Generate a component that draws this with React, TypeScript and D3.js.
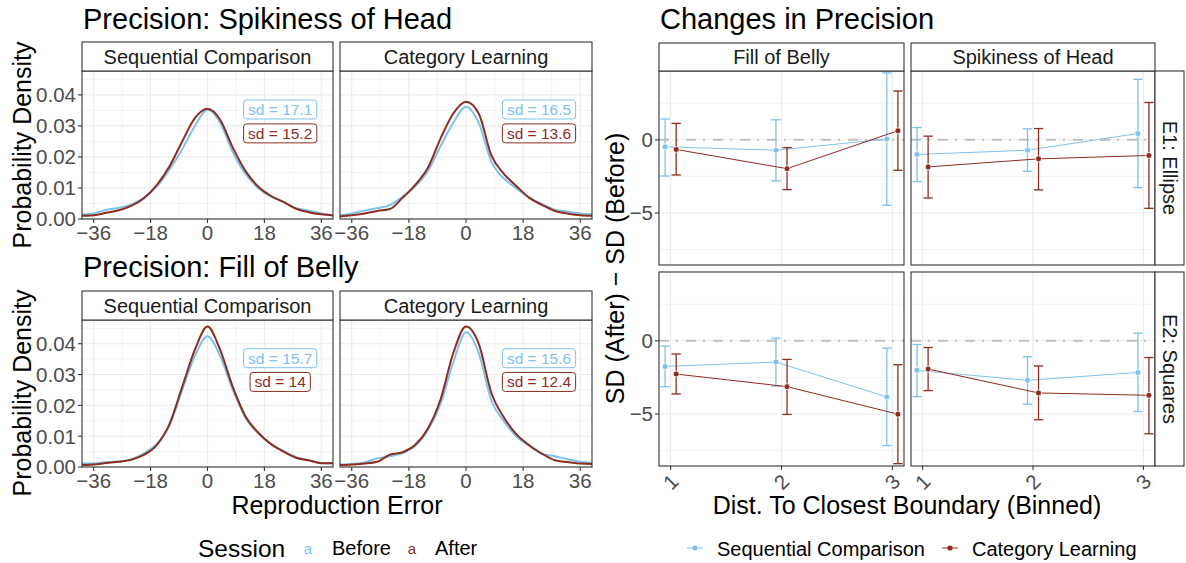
import React from 'react';
import * as d3 from 'd3';

const FONT = '"Liberation Sans", Arial, Helvetica, sans-serif';
const BLUE = '#7DC1EE';
const RED = '#8E2C1E';
const GRID = '#EBEBEB';
const BORDER = '#333333';
const TICK_TEXT = '#4D4D4D';

// Reproduction error grid on which the densities are evaluated
const errorGrid = [-40, -36, -32, -28, -24, -20, -16, -12, -8, -4, 0, 4, 8, 12, 16, 20, 24, 28, 32, 36, 40];

const spikeSeqBefore = [0.0015, 0.0018, 0.003, 0.0036, 0.0047, 0.007, 0.0105, 0.016, 0.0225, 0.030, 0.0352, 0.031, 0.0215, 0.0145, 0.010, 0.0072, 0.0055, 0.0035, 0.0027, 0.0018, 0.0012];
const spikeSeqAfter = [0.0010, 0.0012, 0.002, 0.0028, 0.0043, 0.0068, 0.011, 0.017, 0.025, 0.0325, 0.0355, 0.032, 0.023, 0.0155, 0.0105, 0.0075, 0.0055, 0.0033, 0.0022, 0.0015, 0.0011];
const spikeCatBefore = [0.0012, 0.0018, 0.0027, 0.0035, 0.0045, 0.0072, 0.0105, 0.0155, 0.0235, 0.031, 0.0362, 0.031, 0.0185, 0.013, 0.0098, 0.0068, 0.0048, 0.003, 0.0024, 0.0018, 0.0015];
const spikeCatAfter = [0.0008, 0.0012, 0.0018, 0.0026, 0.0032, 0.0068, 0.011, 0.0165, 0.026, 0.034, 0.0378, 0.034, 0.0205, 0.0145, 0.0105, 0.0068, 0.0045, 0.0026, 0.0018, 0.0012, 0.001];
const bellySeqBefore = [0.0012, 0.0011, 0.0016, 0.0018, 0.0025, 0.0045, 0.0075, 0.0135, 0.025, 0.036, 0.0424, 0.036, 0.025, 0.016, 0.011, 0.0075, 0.0052, 0.0032, 0.0022, 0.0013, 0.0012];
const bellySeqAfter = [0.0006, 0.0008, 0.0013, 0.0017, 0.0024, 0.004, 0.0072, 0.014, 0.026, 0.038, 0.0456, 0.038, 0.026, 0.0165, 0.0112, 0.0075, 0.005, 0.003, 0.0022, 0.0012, 0.0012];
const bellyCatBefore = [0.0008, 0.001, 0.0015, 0.0028, 0.0035, 0.0045, 0.0068, 0.012, 0.0205, 0.034, 0.0437, 0.037, 0.0215, 0.0148, 0.0098, 0.0068, 0.0042, 0.0035, 0.0025, 0.0017, 0.0013];
const bellyCatAfter = [0.0006, 0.0008, 0.0011, 0.0017, 0.004, 0.0048, 0.0072, 0.0125, 0.022, 0.037, 0.0456, 0.040, 0.024, 0.016, 0.0105, 0.007, 0.0043, 0.0022, 0.0016, 0.0011, 0.001];

// Standard deviations [Before, After]
const spikeSeqSd = [17.1, 15.2];
const spikeCatSd = [16.5, 13.6];
const bellySeqSd = [15.7, 14];
const bellyCatSd = [15.6, 12.4];

const errorTicks = [-36, -18, 0, 18, 36];
const errorMinor = [-27, -9, 9, 27];
const densityTicks = [0, 0.01, 0.02, 0.03, 0.04];
const densityMinor = [0.005, 0.015, 0.025, 0.035, 0.045];

const conditions = ['Sequential Comparison', 'Category Learning'];
const sessions = ['Before', 'After'];
const features = ['Fill of Belly', 'Spikiness of Head'];
const experiments = ['E1: Ellipse', 'E2: Squares'];

// Change in SD per distance bin: [mean, lower, upper]
const bins = [1, 2, 3];
const e1BellySeq = [[-0.48, -2.47, 1.42], [-0.71, -2.8, 1.37], [0.05, -4.47, 4.57]];
const e1BellyCat = [[-0.66, -2.4, 1.12], [-1.97, -3.4, -0.53], [0.62, -2.08, 3.33]];
const e1SpikeSeq = [[-1.0, -2.85, 0.84], [-0.71, -2.15, 0.75], [0.43, -3.27, 4.13]];
const e1SpikeCat = [[-1.85, -3.97, 0.25], [-1.3, -3.42, 0.77], [-1.07, -4.68, 2.55]];
const e2BellySeq = [[-1.75, -3.13, -0.36], [-1.45, -3.1, 0.18], [-3.83, -7.16, -0.5]];
const e2BellyCat = [[-2.27, -3.63, -0.9], [-3.13, -5.03, -1.27], [-5.01, -8.39, -1.63]];
const e2SpikeSeq = [[-2.02, -3.81, -0.25], [-2.7, -4.33, -1.09], [-2.16, -4.83, 0.52]];
const e2SpikeCat = [[-1.93, -3.4, -0.46], [-3.56, -5.39, -1.72], [-3.72, -6.35, -1.14]];

const changeTicks = [0, -5];
const changeMinor = [2.5, -2.5, -7.5];

const minus = (v: number, s: string) => (v < 0 ? '\u2212' + s.replace('-', '') : s);

let ctx: CanvasRenderingContext2D | null = null;
function textWidth(text: string, size: number) {
  if (!ctx) ctx = document.createElement('canvas').getContext('2d');
  if (!ctx) return text.length * size * 0.5;
  ctx.font = `${size}px ${FONT}`;
  return ctx.measureText(text).width;
}

type DensityProps = {
  x0: number; x1: number; stripTop: number; top: number; bottom: number;
  title: string; before: number[]; after: number[]; sds: number[]; yAxis: boolean; xTickY: number;
};

function DensityPanel({ x0, x1, stripTop, top, bottom, title, before, after, sds, yAxis, xTickY }: DensityProps) {
  const x = d3.scaleLinear().domain([-39.7, 39.7]).range([x0, x1]);
  const y = d3.scaleLinear().domain([0, 0.0477]).range([bottom, top]);
  const line = d3.line<number>().x((_, i) => x(errorGrid[i])).y((d) => y(d)).curve(d3.curveMonotoneX);
  const labels = [
    { text: `sd = ${sds[0]}`, color: BLUE, yv: 0.0353 },
    { text: `sd = ${sds[1]}`, color: RED, yv: 0.0276 },
  ];
  const clipId = `clip-${Math.round(x0)}-${Math.round(top)}`;
  return (
    <g>
      <clipPath id={clipId}><rect x={x0} y={top} width={x1 - x0} height={bottom - top} /></clipPath>
      {densityMinor.map((v) => <line key={'ym' + v} x1={x0} x2={x1} y1={y(v)} y2={y(v)} stroke={GRID} strokeWidth={0.6} />)}
      {errorMinor.map((v) => <line key={'xm' + v} x1={x(v)} x2={x(v)} y1={top} y2={bottom} stroke={GRID} strokeWidth={0.6} />)}
      {densityTicks.map((v) => <line key={'yM' + v} x1={x0} x2={x1} y1={y(v)} y2={y(v)} stroke={GRID} strokeWidth={1.1} />)}
      {errorTicks.map((v) => <line key={'xM' + v} x1={x(v)} x2={x(v)} y1={top} y2={bottom} stroke={GRID} strokeWidth={1.1} />)}
      <g clipPath={`url(#${clipId})`}>
        <path d={line(before) || ''} fill="none" stroke={BLUE} strokeWidth={2} />
        <path d={line(after) || ''} fill="none" stroke={RED} strokeWidth={2} />
      </g>
      {labels.map((l) => {
        const w = textWidth(l.text, 15.5) + 9;
        const cx = x(23);
        const cy = y(l.yv);
        return (
          <g key={l.text + l.color}>
            <rect x={cx - w / 2} y={cy - 9.5} width={w} height={19} rx={3} fill="#fff" stroke={l.color} strokeWidth={1} />
            <text x={cx} y={cy} dy="0.35em" textAnchor="middle" fontSize={15.5} fill={l.color}>{l.text}</text>
          </g>
        );
      })}
      <rect x={x0} y={top} width={x1 - x0} height={bottom - top} fill="none" stroke={BORDER} strokeWidth={1.1} />
      <rect x={x0} y={stripTop} width={x1 - x0} height={top - stripTop} fill="#fff" stroke={BORDER} strokeWidth={1.1} />
      <text x={(x0 + x1) / 2} y={(stripTop + top) / 2} dy="0.35em" textAnchor="middle" fontSize={20} fill="#1A1A1A">{title}</text>
      {errorTicks.map((v) => (
        <g key={'xt' + v}>
          <line x1={x(v)} x2={x(v)} y1={bottom} y2={bottom + 4} stroke={BORDER} strokeWidth={1.1} />
          <text x={x(v)} y={xTickY} textAnchor="middle" fontSize={20.5} fill={TICK_TEXT}>{minus(v, String(v))}</text>
        </g>
      ))}
      {yAxis && densityTicks.map((v) => (
        <g key={'yt' + v}>
          <line x1={x0 - 4} x2={x0} y1={y(v)} y2={y(v)} stroke={BORDER} strokeWidth={1.1} />
          <text x={x0 - 6} y={y(v)} dy="0.36em" textAnchor="end" fontSize={20.5} fill={TICK_TEXT}>{d3.format('.2f')(v)}</text>
        </g>
      ))}
    </g>
  );
}

type ChangeProps = {
  x0: number; x1: number; top: number; bottom: number;
  seq: number[][]; cat: number[][]; yAxis: boolean; xAxis: boolean;
};

function ChangePanel({ x0, x1, top, bottom, seq, cat, yAxis, xAxis }: ChangeProps) {
  const x = d3.scaleLinear().domain([0.895, 3.105]).range([x0, x1]);
  const y = d3.scaleLinear().domain([-8.55, 4.7]).range([bottom, top]);
  const dodge = 0.05;
  const cap = 0.042;
  const series = [
    { rows: seq, color: BLUE, off: -dodge },
    { rows: cat, color: RED, off: dodge },
  ];
  return (
    <g>
      {changeMinor.map((v) => <line key={'ym' + v} x1={x0} x2={x1} y1={y(v)} y2={y(v)} stroke={GRID} strokeWidth={0.6} />)}
      {changeTicks.map((v) => <line key={'yM' + v} x1={x0} x2={x1} y1={y(v)} y2={y(v)} stroke={GRID} strokeWidth={1.1} />)}
      {bins.map((b) => <line key={'xM' + b} x1={x(b)} x2={x(b)} y1={top} y2={bottom} stroke={GRID} strokeWidth={1.1} />)}
      <line x1={x0} x2={x1} y1={y(0)} y2={y(0)} stroke="#C0C0C0" strokeWidth={2} strokeDasharray="10 7 2 8" />
      {series.map((s, si) => {
        const path = d3.line<number[]>().x((_, i) => x(bins[i] + s.off)).y((d) => y(d[0]))(s.rows) || '';
        return (
          <g key={si}>
            <path d={path} fill="none" stroke={s.color} strokeWidth={1} />
            {s.rows.map((r, i) => {
              const cx = x(bins[i] + s.off);
              return (
                <g key={i}>
                  <line x1={cx} x2={cx} y1={y(r[1])} y2={y(r[2])} stroke={s.color} strokeWidth={1.3} />
                  <line x1={x(bins[i] + s.off - cap)} x2={x(bins[i] + s.off + cap)} y1={y(r[1])} y2={y(r[1])} stroke={s.color} strokeWidth={1.3} />
                  <line x1={x(bins[i] + s.off - cap)} x2={x(bins[i] + s.off + cap)} y1={y(r[2])} y2={y(r[2])} stroke={s.color} strokeWidth={1.3} />
                  <circle cx={cx} cy={y(r[0])} r={3} fill={s.color} stroke="#fff" strokeWidth={0.8} />
                </g>
              );
            })}
          </g>
        );
      })}
      <rect x={x0} y={top} width={x1 - x0} height={bottom - top} fill="none" stroke={BORDER} strokeWidth={1.1} />
      {yAxis && changeTicks.map((v) => (
        <g key={'yt' + v}>
          <line x1={x0 - 4} x2={x0} y1={y(v)} y2={y(v)} stroke={BORDER} strokeWidth={1.1} />
          <text x={x0 - 6} y={y(v)} dy="0.36em" textAnchor="end" fontSize={20.5} fill={TICK_TEXT}>{minus(v, String(v))}</text>
        </g>
      ))}
      {xAxis && bins.map((b) => (
        <g key={'xt' + b}>
          <line x1={x(b)} x2={x(b)} y1={bottom} y2={bottom + 4} stroke={BORDER} strokeWidth={1.1} />
          <text transform={`translate(${x(b)},${bottom + 16}) rotate(-45)`} textAnchor="middle" dy="0.35em" fontSize={20.5} fill={TICK_TEXT}>{b}</text>
        </g>
      ))}
    </g>
  );
}

export default function App() {
  const leftCols = [[82, 333], [340, 592]];
  const rightCols = [[659, 904], [911, 1155]];
  const rightRows = [[71, 265], [272, 466]];
  const changeData = [
    [[e1BellySeq, e1BellyCat], [e1SpikeSeq, e1SpikeCat]],
    [[e2BellySeq, e2BellyCat], [e2SpikeSeq, e2SpikeCat]],
  ];
  return (
    <svg width={1186} height={563} style={{ position: 'absolute', left: 0, top: 0, display: 'block', background: '#fff' }} fontFamily={FONT}>
      <rect width={1186} height={563} fill="#fff" />

      {/* Left block: density of reproduction errors */}
      <text x={83} y={29} fontSize={29} fill="#000">Precision: Spikiness of Head</text>
      <DensityPanel x0={leftCols[0][0]} x1={leftCols[0][1]} stripTop={42} top={71} bottom={219} title={conditions[0]}
        before={spikeSeqBefore} after={spikeSeqAfter} sds={spikeSeqSd} yAxis xTickY={240} />
      <DensityPanel x0={leftCols[1][0]} x1={leftCols[1][1]} stripTop={42} top={71} bottom={219} title={conditions[1]}
        before={spikeCatBefore} after={spikeCatAfter} sds={spikeCatSd} yAxis={false} xTickY={240} />
      <text transform="translate(31,145) rotate(-90)" textAnchor="middle" fontSize={25} fill="#000">Probability Density</text>

      <text x={83} y={277} fontSize={29} fill="#000">Precision: Fill of Belly</text>
      <DensityPanel x0={leftCols[0][0]} x1={leftCols[0][1]} stripTop={291} top={320} bottom={467} title={conditions[0]}
        before={bellySeqBefore} after={bellySeqAfter} sds={bellySeqSd} yAxis xTickY={488} />
      <DensityPanel x0={leftCols[1][0]} x1={leftCols[1][1]} stripTop={291} top={320} bottom={467} title={conditions[1]}
        before={bellyCatBefore} after={bellyCatAfter} sds={bellyCatSd} yAxis={false} xTickY={488} />
      <text transform="translate(31,393) rotate(-90)" textAnchor="middle" fontSize={25} fill="#000">Probability Density</text>
      <text x={337} y={514} textAnchor="middle" fontSize={25} fill="#000">Reproduction Error</text>

      {/* Session legend */}
      <text x={198} y={557} fontSize={24.5} fill="#000">Session</text>
      <text x={308} y={554} textAnchor="middle" fontSize={15} fill={BLUE}>a</text>
      <text x={332} y={555} fontSize={20} fill="#000">{sessions[0]}</text>
      <text x={412} y={554} textAnchor="middle" fontSize={15} fill={RED}>a</text>
      <text x={435} y={555} fontSize={20} fill="#000">{sessions[1]}</text>

      {/* Right block: change in precision by distance bin */}
      <text x={660} y={29} fontSize={29} fill="#000">Changes in Precision</text>
      {rightRows.map((row, ri) => rightCols.map((col, ci) => (
        <ChangePanel key={`${ri}-${ci}`} x0={col[0]} x1={col[1]} top={row[0]} bottom={row[1]}
          seq={changeData[ri][ci][0]} cat={changeData[ri][ci][1]} yAxis={ci === 0} xAxis={ri === 1} />
      )))}
      {rightCols.map((col, ci) => (
        <g key={'strip' + ci}>
          <rect x={col[0]} y={43} width={col[1] - col[0]} height={28} fill="#fff" stroke={BORDER} strokeWidth={1.1} />
          <text x={(col[0] + col[1]) / 2} y={57} dy="0.35em" textAnchor="middle" fontSize={20} fill="#1A1A1A">{features[ci]}</text>
        </g>
      ))}
      {rightRows.map((row, ri) => (
        <g key={'rstrip' + ri}>
          <rect x={1155} y={row[0]} width={29} height={row[1] - row[0]} fill="#fff" stroke={BORDER} strokeWidth={1.1} />
          <text transform={`translate(1169.5,${(row[0] + row[1]) / 2}) rotate(90)`} dy="0.35em" textAnchor="middle" fontSize={20} fill="#1A1A1A">{experiments[ri]}</text>
        </g>
      ))}
      <text transform="translate(624,268.5) rotate(-90)" textAnchor="middle" fontSize={25} fill="#000">SD (After) − SD (Before)</text>
      <text x={907} y={514} textAnchor="middle" fontSize={25} fill="#000">Dist. To Closest Boundary (Binned)</text>

      {/* Condition legend */}
      <line x1={687} x2={703} y1={548} y2={548} stroke={BLUE} strokeWidth={1} />
      <circle cx={695} cy={548} r={2.6} fill={BLUE} />
      <text x={717} y={555.5} fontSize={20} fill="#000">{conditions[0]}</text>
      <line x1={942} x2={958} y1={548} y2={548} stroke={RED} strokeWidth={1} />
      <circle cx={950} cy={548} r={2.6} fill={RED} />
      <text x={972} y={555.5} fontSize={20} fill="#000">{conditions[1]}</text>
    </svg>
  );
}
